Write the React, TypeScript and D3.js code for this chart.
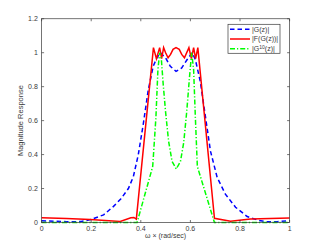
import React from "react";
import * as d3 from "d3";

// |G(z)|
const gX = [0, 0.05, 0.1, 0.13, 0.16, 0.2, 0.25, 0.29, 0.32, 0.35, 0.37, 0.39, 0.41, 0.43, 0.45, 0.465, 0.479, 0.5, 0.519, 0.542, 0.565, 0.587, 0.607, 0.62, 0.64, 0.661, 0.681, 0.708, 0.741, 0.782, 0.829, 0.876, 0.91, 0.95, 1.0];
const gY = [0.01, 0.008, 0.005, 0.004, 0.006, 0.018, 0.045, 0.095, 0.14, 0.2, 0.27, 0.4, 0.58, 0.78, 0.92, 0.97, 1.0, 0.97, 0.92, 0.89, 0.91, 0.96, 1.0, 0.96, 0.83, 0.62, 0.42, 0.265, 0.167, 0.09, 0.035, 0.012, 0.004, 0.005, 0.01];

// |F(G(z))|
const fX = [0, 0.1, 0.196, 0.317, 0.36, 0.372, 0.382, 0.451, 0.463, 0.476, 0.484, 0.492, 0.5, 0.51, 0.52, 0.53, 0.542, 0.555, 0.565, 0.576, 0.594, 0.604, 0.613, 0.621, 0.63, 0.697, 0.762, 0.842, 1.0];
const fY = [0.028, 0.024, 0.018, 0.006, 0.028, 0.03, 0.02, 1.03, 0.965, 1.03, 0.965, 1.03, 1.0, 0.97, 0.99, 1.02, 1.03, 1.02, 0.99, 0.97, 1.03, 0.965, 1.03, 0.965, 1.03, 0.025, 0.007, 0.02, 0.027];

// |G^10(z)|
const hX = [0, 0.385, 0.448, 0.461, 0.469, 0.476, 0.483, 0.49, 0.5, 0.512, 0.526, 0.543, 0.56, 0.573, 0.585, 0.596, 0.605, 0.613, 0.62, 0.628, 0.697, 1.0];
const hY = [0, 0, 0.33, 0.62, 0.9, 1.0, 0.96, 0.82, 0.65, 0.48, 0.36, 0.315, 0.36, 0.47, 0.65, 0.85, 1.0, 0.9, 0.62, 0.33, 0, 0];

const xTicks = [0, 0.2, 0.4, 0.6, 0.8, 1];
const yTicks = [0, 0.2, 0.4, 0.6, 0.8, 1, 1.2];

const series = [
  { name: "G", xs: gX, ys: gY, color: "#0000ff", dash: "4.5,3" },
  { name: "F", xs: fX, ys: fY, color: "#ff0000", dash: null },
  { name: "H", xs: hX, ys: hY, color: "#00ff00", dash: "5,2,1.2,2" },
];

const App = () => {
  const svgRef = React.useRef(null);
  const width = 320;
  const height = 250;
  const margin = { left: 41.6, right: 30.4, top: 18.75, bottom: 27.5 };
  const w = width - margin.left - margin.right;
  const h = height - margin.top - margin.bottom;

  React.useEffect(() => {
    const xScale = d3.scaleLinear().domain([0, 1]).range([0, w]);
    const yScale = d3.scaleLinear().domain([0, 1.2]).range([h, 0]);

    const svgEl = d3.select(svgRef.current);
    svgEl.selectAll("*").remove();
    svgEl.append("rect").attr("width", width).attr("height", height).attr("fill", "#fff");
    const svg = svgEl.append("g").attr("transform", `translate(${margin.left},${margin.top})`);

    const axisColor = "#3a3a3a";
    const font = "'Liberation Sans', Arial, sans-serif";

    // lines
    const line = d3.line()
      .x((d) => xScale(d[0]))
      .y((d) => yScale(d[1]));
    series.forEach((s) => {
      const pts = s.xs.map((x, i) => [x, s.ys[i]]);
      svg.append("path")
        .attr("fill", "none")
        .attr("stroke", s.color)
        .attr("stroke-width", 1.5)
        .attr("stroke-dasharray", s.dash)
        .attr("d", line(pts));
    });

    // box
    svg.append("rect")
      .attr("x", 0).attr("y", 0).attr("width", w).attr("height", h)
      .attr("fill", "none").attr("stroke", axisColor).attr("stroke-width", 0.7);

    const tl = 2.5;
    // x ticks
    xTicks.forEach((t) => {
      const x = xScale(t);
      svg.append("line").attr("x1", x).attr("x2", x).attr("y1", h).attr("y2", h - tl).attr("stroke", axisColor).attr("stroke-width", 0.7);
      svg.append("line").attr("x1", x).attr("x2", x).attr("y1", 0).attr("y2", tl).attr("stroke", axisColor).attr("stroke-width", 0.7);
      svg.append("text").attr("x", x).attr("y", h + 8)
        .attr("text-anchor", "middle").attr("font-family", font).attr("font-size", 7).attr("fill", axisColor)
        .text(d3.format("")(t));
    });
    // y ticks
    yTicks.forEach((t) => {
      const y = yScale(t);
      svg.append("line").attr("x1", 0).attr("x2", tl).attr("y1", y).attr("y2", y).attr("stroke", axisColor).attr("stroke-width", 0.7);
      svg.append("line").attr("x1", w).attr("x2", w - tl).attr("y1", y).attr("y2", y).attr("stroke", axisColor).attr("stroke-width", 0.7);
      svg.append("text").attr("x", -3.8).attr("y", y + 2.5)
        .attr("text-anchor", "end").attr("font-family", font).attr("font-size", 7).attr("fill", axisColor)
        .text(d3.format("")(t));
    });

    // axis labels
    svg.append("text").attr("x", w / 2).attr("y", h + 15.6)
      .attr("text-anchor", "middle").attr("font-family", font).attr("font-size", 7).attr("fill", axisColor)
      .text("ω × (rad/sec)");
    svg.append("text")
      .attr("transform", `translate(${-18.5},${h / 2}) rotate(-90)`)
      .attr("text-anchor", "middle").attr("font-family", font).attr("font-size", 7.5).attr("fill", axisColor)
      .text("Magnitude Response");

    // legend
    const lg = svgEl.append("g").attr("transform", "translate(228,24.3)");
    lg.append("rect").attr("width", 52).attr("height", 29)
      .attr("fill", "#fff").attr("stroke", axisColor).attr("stroke-width", 0.7);
    const labels = ["|G(z)|", "|F(G(z))|", null];
    series.forEach((s, i) => {
      const y = 5 + i * 9.7;
      lg.append("line").attr("x1", 2).attr("x2", 22).attr("y1", y).attr("y2", y)
        .attr("stroke", s.color).attr("stroke-width", 1.5).attr("stroke-dasharray", s.dash);
      const t = lg.append("text").attr("x", 24).attr("y", y + 2.5)
        .attr("font-family", font).attr("font-size", 7).attr("fill", axisColor);
      if (labels[i]) {
        t.text(labels[i]);
      } else {
        t.append("tspan").text("|G");
        t.append("tspan").attr("dy", -2.5).attr("font-size", 5).text("10");
        t.append("tspan").attr("dy", 2.5).text("(z)|");
      }
    });
  }, []);

  return (
    <svg ref={svgRef} width={width} height={height} style={{ position: "absolute", left: 0, top: 0 }} />
  );
};

export default App;
